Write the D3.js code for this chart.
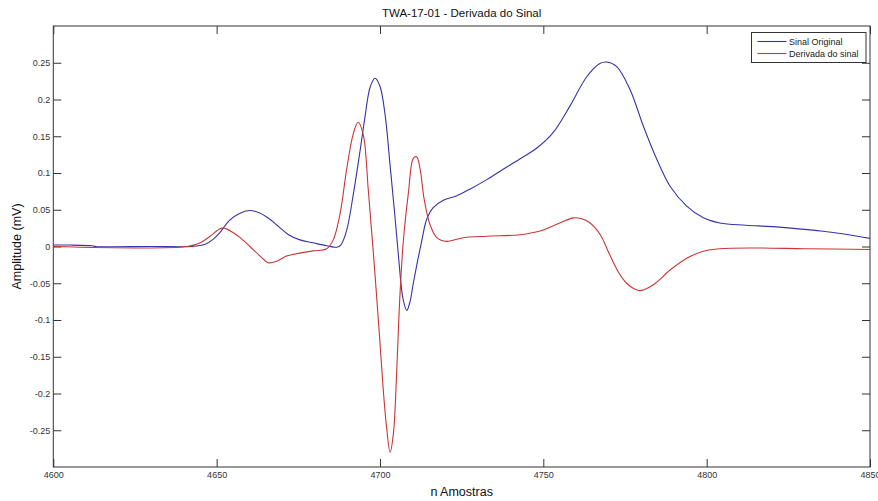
<!DOCTYPE html>
<html>
<head>
<meta charset="utf-8">
<script src="https://cdn.jsdelivr.net/npm/d3@7"></script>
<style>
  html, body { margin: 0; padding: 0; background: #fff; }
  svg { display: block; font-family: "Liberation Sans", Arial, sans-serif; }
</style>
</head>
<body>
<svg id="chart" width="878" height="501"></svg>
<script>
// Signal samples: [sample index, amplitude in mV]
const sinalOriginal = [
  [4600,0.002],[4605,0.002],[4612,0.001],[4613,0],[4630,0],[4642,0],
  [4646.5,0.003],[4649,0.01],[4651,0.019],[4654,0.036],[4657,0.045],[4660,0.049],
  [4663,0.046],[4666,0.038],[4669,0.027],[4672,0.016],[4675.5,0.009],[4679.5,0.005],
  [4683.7,0.001],[4686.8,-0.001],[4688,0.002],[4689.8,0.022],[4691.8,0.07],[4693.9,0.13],
  [4695.4,0.176],[4697,0.217],[4698.5,0.229],[4700,0.218],[4701.6,0.178],[4703.1,0.11],
  [4704.6,0.04],[4705.8,-0.02],[4707,-0.07],[4708.2,-0.087],[4709.2,-0.075],[4710.2,-0.05],
  [4711.5,-0.02],[4712.8,0.008],[4714.3,0.037],[4716.3,0.053],[4719.4,0.063],[4723.5,0.069],
  [4727.5,0.078],[4732.7,0.091],[4737.7,0.105],[4742.8,0.119],[4748,0.134],[4753,0.155],
  [4758,0.19],[4763.3,0.231],[4767.3,0.249],[4769.4,0.251],[4772.4,0.245],[4776.5,0.214],
  [4780.6,0.164],[4784.7,0.119],[4788.8,0.082],[4793.9,0.055],[4799,0.039],[4804,0.032],
  [4812,0.029],[4820,0.027],[4828,0.024],[4835,0.021],[4842,0.017],[4850,0.011]
];

// Derivative of the signal: [sample index, amplitude in mV]
const derivadaSinal = [
  [4600,0],[4641,0],[4645,0.005],[4648,0.014],[4650,0.021],[4651.5,0.025],[4653,0.024],
  [4655,0.019],[4657.2,0.012],[4660.2,0.0],[4663.3,-0.013],[4665.8,-0.022],[4668.4,-0.02],
  [4671.4,-0.013],[4675.5,-0.009],[4679.6,-0.006],[4683.7,-0.003],[4685.7,0.009],
  [4687.8,0.045],[4689.8,0.105],[4691.8,0.153],[4693.3,0.169],[4694.9,0.152],[4696.4,0.078],
  [4698,-0.01],[4699.9,-0.125],[4701,-0.195],[4702,-0.245],[4703.1,-0.28],[4704.1,-0.255],
  [4705.1,-0.172],[4705.9,-0.085],[4707.1,0.005],[4708.7,0.073],[4710.2,0.12],[4711.2,0.122],
  [4712.3,0.105],[4713.5,0.065],[4715.3,0.03],[4717.4,0.012],[4720.4,0.007],[4725.5,0.012],
  [4732.7,0.014],[4742.8,0.016],[4749,0.021],[4755,0.032],[4759.2,0.039],[4761.5,0.038],
  [4764,0.033],[4767.3,0.017],[4770.4,-0.012],[4773,-0.035],[4775.5,-0.05],[4778,-0.058],
  [4779.6,-0.06],[4783.7,-0.052],[4788.8,-0.032],[4793.9,-0.016],[4799,-0.0065],[4804,-0.003],
  [4815,-0.002],[4830,-0.003],[4850,-0.004]
];

const xTicks = [4600, 4650, 4700, 4750, 4800, 4850];
const yTicks = [-0.25, -0.2, -0.15, -0.1, -0.05, 0, 0.05, 0.1, 0.15, 0.2, 0.25];

const seriesNames = ["Sinal Original", "Derivada do sinal"];
const seriesColors = ["#3434a6", "#cc3535"];

const title = "TWA-17-01 - Derivada do Sinal";
const xLabel = "n Amostras";
const yLabel = "Amplitude (mV)";

const svg = d3.select("#chart");
const plot = { left: 53.3, right: 870, top: 26, bottom: 467 };

const x = d3.scaleLinear().domain([4600, 4850]).range([plot.left, plot.right]);
const y = d3.scaleLinear().domain([-0.3, 0.3]).range([plot.bottom, plot.top]);

const fmt = v => {
  const s = String(+v.toFixed(2));
  return s;
};

const tickLen = 8;
const axisColor = "#333";

// Bottom axis (ticks pointing inward)
const gx = svg.append("g").attr("transform", `translate(0,${plot.bottom})`)
  .call(d3.axisBottom(x).tickValues(xTicks).tickSize(-tickLen).tickPadding(5).tickFormat(d3.format("d")));
// Top axis ticks
const gxt = svg.append("g").attr("transform", `translate(0,${plot.top})`)
  .call(d3.axisTop(x).tickValues(xTicks).tickSize(-tickLen).tickFormat(""));
// Left axis
const gy = svg.append("g").attr("transform", `translate(${plot.left},0)`)
  .call(d3.axisLeft(y).tickValues(yTicks).tickSize(-tickLen).tickPadding(3).tickFormat(fmt));
// Right axis ticks
const gyr = svg.append("g").attr("transform", `translate(${plot.right},0)`)
  .call(d3.axisRight(y).tickValues(yTicks).tickSize(-tickLen).tickFormat(""));

[gx, gxt, gy, gyr].forEach(g => {
  g.select(".domain").remove();
  g.selectAll(".tick line").attr("stroke", axisColor).attr("stroke-width", 1);
  g.selectAll(".tick text").attr("fill", "#333").style("font-size", "9px")
    .style("font-family", "'Liberation Sans', Arial, sans-serif");
});

// Plot box
svg.append("rect")
  .attr("x", plot.left).attr("y", plot.top)
  .attr("width", plot.right - plot.left).attr("height", plot.bottom - plot.top)
  .attr("fill", "none").attr("stroke", axisColor).attr("stroke-width", 1);

// Curves
const clip = svg.append("clipPath").attr("id", "plotclip")
  .append("rect").attr("x", plot.left).attr("y", plot.top)
  .attr("width", plot.right - plot.left).attr("height", plot.bottom - plot.top);

const line = d3.line()
  .x(d => x(d[0])).y(d => y(d[1]))
  .curve(d3.curveCatmullRom.alpha(0.5));

const curves = svg.append("g").attr("clip-path", "url(#plotclip)");
[sinalOriginal, derivadaSinal].forEach((data, i) => {
  curves.append("path")
    .datum(data)
    .attr("d", line)
    .attr("fill", "none")
    .attr("stroke", seriesColors[i])
    .attr("stroke-width", 1.1);
});

// Title and axis labels
svg.append("text").attr("x", (plot.left + plot.right) / 2).attr("y", 17)
  .attr("text-anchor", "middle").style("font-size", "11.5px").attr("fill", "#111").text(title);
svg.append("text").attr("x", (plot.left + plot.right) / 2).attr("y", 496)
  .attr("text-anchor", "middle").style("font-size", "12.5px").attr("fill", "#111").text(xLabel);
svg.append("text")
  .attr("transform", `translate(21,${(plot.top + plot.bottom) / 2}) rotate(-90)`)
  .attr("text-anchor", "middle").style("font-size", "12.5px").attr("fill", "#111").text(yLabel);

// Legend
const lg = svg.append("g").attr("transform", "translate(751.5,32.5)");
lg.append("rect").attr("width", 114.5).attr("height", 30)
  .attr("fill", "#fff").attr("stroke", axisColor).attr("stroke-width", 1);
seriesNames.forEach((name, i) => {
  const yy = 9 + i * 12;
  lg.append("line").attr("x1", 6).attr("x2", 35).attr("y1", yy).attr("y2", yy)
    .attr("stroke", seriesColors[i]).attr("stroke-width", 1.1);
  lg.append("text").attr("x", 37.5).attr("y", yy + 3.3)
    .style("font-size", "9px").attr("fill", "#222").text(name);
});
</script>
</body>
</html>
